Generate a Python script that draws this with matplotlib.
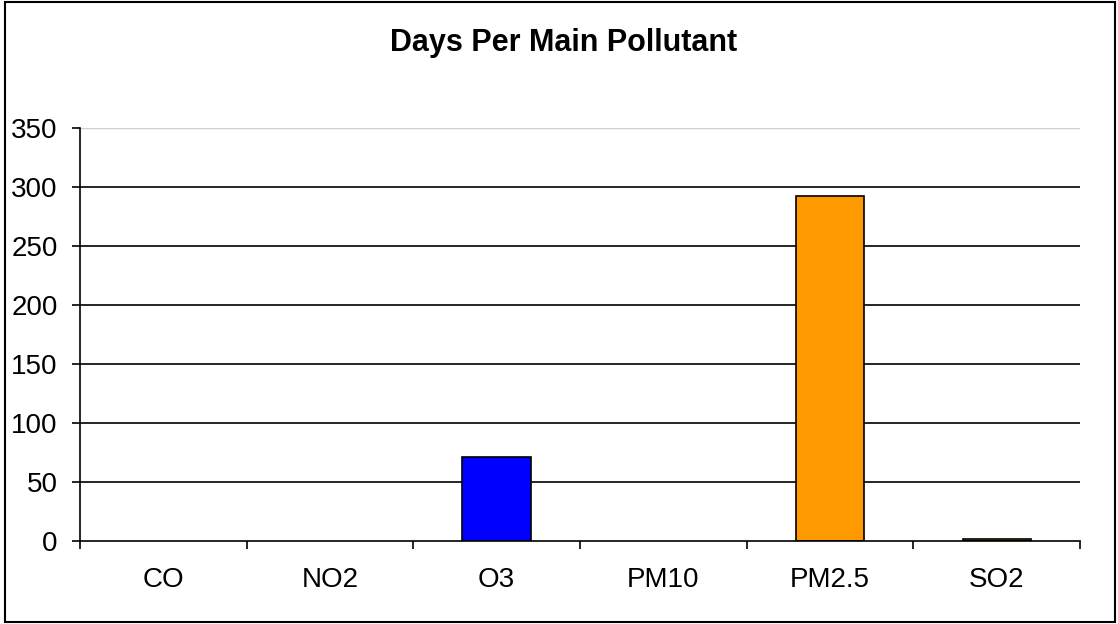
import matplotlib.pyplot as plt
from matplotlib.patches import Rectangle

categories = ['CO', 'NO2', 'O3', 'PM10', 'PM2.5', 'SO2']
days = [0, 0, 71, 0, 292, 2]
colors = ['#0000ff', '#0000ff', '#0000ff', '#0000ff', '#ff9900', '#ff9900']
y_ticks = [0, 50, 100, 150, 200, 250, 300, 350]

plt.rcParams['font.family'] = ['Liberation Sans', 'DejaVu Sans']

fig = plt.figure(figsize=(11.18, 6.24), dpi=100)
fig.patches.append(Rectangle((5 / 1118, 2 / 624), 1110 / 1118, 620 / 624, transform=fig.transFigure,
                             fill=False, edgecolor='black', linewidth=1.5))
ax = fig.add_axes([80 / 1118, 1 - 541 / 624, 1000 / 1118, 413 / 624])

x = list(range(len(categories)))
for i, v in enumerate(days):
    if v > 0:
        ax.bar(i, v, width=0.41, color=colors[i], edgecolor='black', linewidth=1.2, zorder=3)

ax.set_xlim(-0.5, len(categories) - 0.5)
ax.set_ylim(0, 350)
ax.set_yticks(y_ticks)
ax.set_yticklabels([str(t) for t in y_ticks], fontsize=20)
for t in y_ticks[1:-1]:
    ax.axhline(t, color='black', linewidth=1.2, zorder=1)
ax.axhline(350, color='#d0d0d0', linewidth=1.0, zorder=1)

ax.set_xticks([i - 0.5 for i in range(len(categories) + 1)], minor=False)
ax.set_xticklabels([])
ax.set_xticks(x, minor=True)
ax.set_xticklabels(categories, minor=True, fontsize=20)
ax.tick_params(axis='x', which='minor', length=0, pad=19)
ax.tick_params(axis='x', which='major', length=6, width=1.2, direction='out')
ax.tick_params(axis='y', length=6, width=1.2, direction='out', pad=10)

for side in ['top', 'right']:
    ax.spines[side].set_visible(False)
ax.spines['left'].set_linewidth(1.2)
ax.spines['bottom'].set_linewidth(1.2)
ax.spines['left'].set_zorder(4)
ax.spines['bottom'].set_zorder(4)

fig.text(564 / 1118, 1 - 43 / 624, 'Days Per Main Pollutant', ha='center', va='center',
         fontsize=22, fontweight='bold')

fig.savefig('out.png', dpi=100)
